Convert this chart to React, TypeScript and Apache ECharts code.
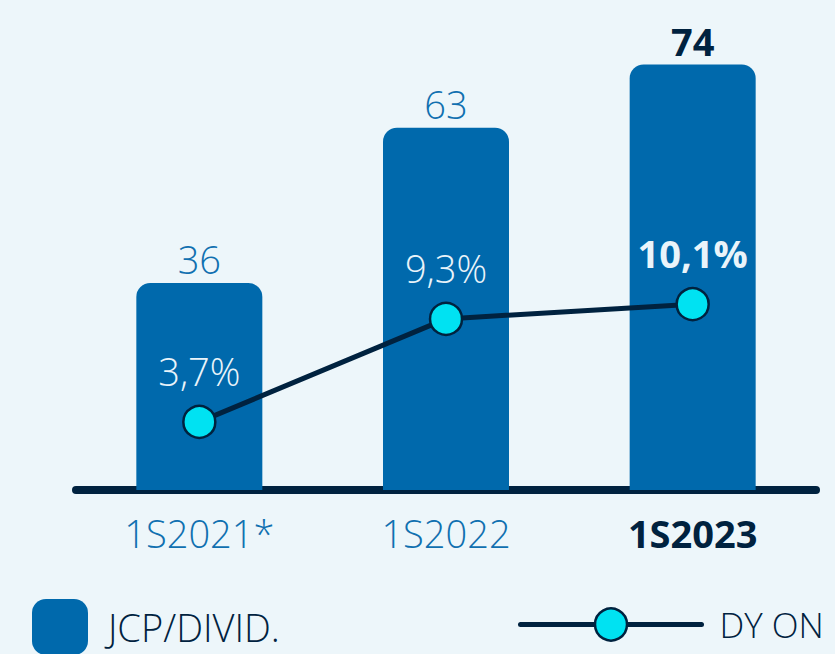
import React, { useEffect, useRef } from "react";
import * as echarts from "echarts";

const categories = ["1S2021*", "1S2022", "1S2023"];
const dividends = [36, 63, 74];
const dyOn = [3.7, 9.3, 10.1];
const dyLabels = ["3,7%", "9,3%", "10,1%"];
const highlightIndex = 2;

const BG = "#EDF6FA";
const BAR = "#0069AC";
const NAVY = "#00223F";
const CYAN = "#00E2F2";
const BLUE_TEXT = "#1070B0";
const FONT = "'Open Sans', 'Noto Sans', sans-serif";

export default function App() {
  const ref = useRef<HTMLDivElement>(null);
  useEffect(() => {
    if (!ref.current) return;
    const chart = echarts.init(ref.current, undefined, { renderer: "svg" });
    chart.setOption({
      animation: false,
      backgroundColor: BG,
      textStyle: { fontFamily: FONT },
      grid: { left: 76, right: 19, top: 30, bottom: 164 },
      legend: [
        {
          data: ["JCP/DIVID."],
          left: 32,
          top: 599,
          padding: 0,
          itemWidth: 56,
          itemHeight: 56,
          icon: "roundRect",
          textStyle: { color: NAVY, fontSize: 38, fontWeight: 300, fontFamily: FONT, padding: [0, 0, 0, 15] },
        },
        {
          data: ["DY ON"],
          left: 518,
          top: 607,
          padding: 0,
          itemWidth: 181,
          itemHeight: 40,
          lineStyle: { width: 5, color: NAVY, cap: "round" },
          itemStyle: { color: CYAN, borderColor: NAVY, borderWidth: 2.5 },
          textStyle: { color: NAVY, fontSize: 35, fontWeight: 300, fontFamily: FONT, padding: [0, 0, 0, 13] },
        },
      ],
      xAxis: {
        type: "category",
        data: categories,
        axisLine: { show: true, lineStyle: { color: NAVY, width: 8, cap: "round" } },
        axisTick: { show: false },
        axisLabel: {
          margin: 24,
          formatter: (v: string, i: number) => (i === highlightIndex ? `{b|${v}}` : `{n|${v}}`),
          rich: {
            n: { color: BLUE_TEXT, fontSize: 38, fontWeight: 300, fontFamily: FONT },
            b: { color: NAVY, fontSize: 38, fontWeight: "bold", fontFamily: FONT },
          },
        },
      },
      yAxis: [
        { type: "value", min: 0, max: 80, show: false, splitLine: { show: false } },
        { type: "value", min: 0, max: 25, show: false, splitLine: { show: false } },
      ],
      series: [
        {
          name: "JCP/DIVID.",
          type: "bar",
          barWidth: 126,
          itemStyle: { color: BAR, borderRadius: [14, 14, 0, 0] },
          data: dividends.map((v, i) => ({
            value: v,
            label: {
              show: true,
              position: "top",
              distance: 5,
              fontFamily: FONT,
              fontSize: 38,
              fontWeight: i === highlightIndex ? "bold" : 300,
              color: i === highlightIndex ? NAVY : BLUE_TEXT,
            },
          })),
          z: 1,
        },
        {
          name: "DY ON",
          type: "line",
          yAxisIndex: 1,
          symbol: "circle",
          symbolSize: 32,
          lineStyle: { color: NAVY, width: 5 },
          itemStyle: { color: CYAN, borderColor: NAVY, borderWidth: 2.5 },
          z: 3,
          data: dyOn.map((v, i) => ({
            value: v,
            label: {
              show: true,
              position: "top",
              distance: 15,
              formatter: () => dyLabels[i],
              fontFamily: FONT,
              fontSize: 38,
              fontWeight: i === highlightIndex ? "bold" : 300,
              color: "#EAF4FA",
            },
          })),
        },
      ],
    });
    return () => chart.dispose();
  }, []);
  return (
    <div
      ref={ref}
      style={{ position: "fixed", left: 0, top: 0, width: 835, height: 654 }}
    />
  );
}
